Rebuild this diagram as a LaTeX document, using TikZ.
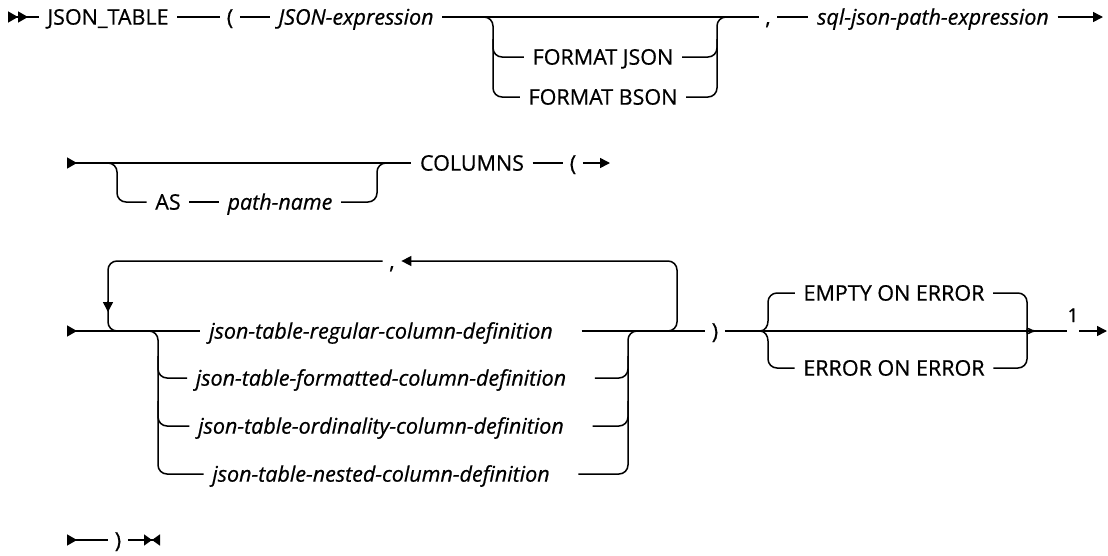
\documentclass[tikz,border=0pt]{standalone}
\usepackage{fontspec}
\setmainfont{Open Sans}[FakeBold=0.6]
\usetikzlibrary{arrows.meta}

\begin{document}
\begin{tikzpicture}[
  x=1pt,y=-1pt,
  font=\fontsize{21.5}{26}\selectfont,
  line width=1.5pt,
  kw/.style={text height=15.3pt,text depth=0pt,inner ysep=0pt,inner xsep=8pt},
  var/.style={kw,font=\fontsize{21.5}{26}\selectfont\itshape},
  sym/.style={kw,inner xsep=6pt},
  fork/.style={rounded corners=9pt},
  railgo/.style={-{Triangle[length=10pt,width=10pt]}},
  railstart/.style={{Triangle[reversed,length=10pt,width=11pt]}-},
  railbegin/.style={{Triangle[reversed,length=10pt,width=11pt]Triangle[reversed,length=10pt,width=11pt]}-},
  railstop/.style={-{Triangle[length=8pt,width=11pt]Triangle[reversed,length=8pt,width=11pt]}},
  note/.style={inner sep=0pt,anchor=base,font=\fontsize{19}{22}\selectfont},
]
\useasboundingbox (0,0) rectangle (1108,555);

% ---- row 1: JSON_TABLE ( JSON-expression [FORMAT ...] , path ----
\coordinate (s1) at (8,17);
\node[kw] (jsontable) at (108,17) {JSON\_TABLE};
\node[sym] (lp1) at (230,17) {(};
\node[var] (jsonexpr) at (356,17) {JSON-expression};
\node[sym] (comma1) at (768,17) {,};
\node[var] (sqlpath) at (933,17) {sql-json-path-expression};
\coordinate (e1) at (1103,17);
\node[kw] (fmtjson) at (603,57) {FORMAT JSON};
\node[kw] (fmtbson) at (603,97) {FORMAT BSON};
\coordinate (f1l) at (493,17);
\coordinate (f1r) at (717,17);

\draw[railbegin] (s1) -- (jsontable);
\draw (jsontable) -- (lp1);
\draw (lp1) -- (jsonexpr);
\draw (jsonexpr) -- (comma1);
\draw (comma1) -- (sqlpath);
\draw[railgo] (sqlpath) -- (e1);
\draw[fork] ([xshift=-20pt]f1l) -| (f1l |- fmtbson) -- (fmtbson);
\draw[fork] ([yshift=-22pt]f1l) |- (fmtjson);
\draw[fork] (fmtbson) -| (f1r) -- ([xshift=20pt]f1r);
\draw[fork] (fmtjson) -| ([yshift=-22pt]f1r);

% ---- row 2: optional AS path-name, COLUMNS ( ----
\coordinate (s2) at (67,163);
\node[kw] (columns) at (472,163) {COLUMNS};
\node[sym] (lp2) at (573,163) {(};
\coordinate (e2) at (610,163);
\node[kw] (as) at (168,202) {AS};
\node[var] (pathname) at (280,202) {path-name};
\coordinate (f2l) at (117,163);
\coordinate (f2r) at (377,163);

\draw[railstart] (s2) -- (columns);
\draw (columns) -- (lp2);
\draw[railgo] (lp2) -- (e2);
\draw[fork] ([xshift=-20pt]f2l) -| (f2l |- as) -- (as);
\draw (as) -- (pathname);
\draw[fork] (pathname) -| (f2r) -- ([xshift=20pt]f2r);

% ---- row 3: repeated column definitions, then ON ERROR choice ----
\coordinate (s3) at (67,331);
\node[var] (regular) at (381,331) {json-table-regular-column-definition};
\node[var] (formatted) at (381,378) {json-table-formatted-column-definition};
\node[var] (ordinality) at (381,426) {json-table-ordinality-column-definition};
\node[var] (nested) at (381,474) {json-table-nested-column-definition};
\node[sym] (rp3) at (715,331) {)};
\node[sym] (comma3) at (392,261) {,};
\coordinate (f3l) at (158,331);
\coordinate (f3r) at (628,331);
\coordinate (loopl) at (108,331);
\coordinate (loopr) at (677,331);

\draw[railstart] (s3) -- (regular);
\draw[fork] ([xshift=-20pt]f3l) -| (f3l |- nested) -- (nested);
\draw[fork] ([yshift=-25pt]f3l) |- (formatted);
\draw[fork] ([yshift=-70pt]f3l) |- (ordinality);
\draw[fork] ([xshift=20pt]nested.east) -| (f3r) -- ([xshift=20pt]f3r);
\draw[fork] ([xshift=20pt]formatted.east) -| ([yshift=-25pt]f3r);
\draw[fork] ([xshift=20pt]ordinality.east) -| ([yshift=-70pt]f3r);
\draw ([xshift=20pt]regular.east) -- (rp3);

% repeat loop over the comma
\draw[fork,railgo] ([xshift=-20pt]loopr) -| ([yshift=70pt]loopr) -- (comma3);
\draw[fork,railgo] (comma3) -| ([yshift=19pt]loopl);
\draw[fork] ([yshift=30pt]loopl) |- ([xshift=20pt]loopl);

\node[kw] (empty) at (894,293) {EMPTY ON ERROR};
\node[kw] (error) at (894,368) {ERROR ON ERROR};
\coordinate (bl) at (760,331);
\coordinate (br) at (1035,331);
\node[note] (fn) at (1073,322) {1};
\coordinate (e3) at (1107,331);

\draw (rp3) -- (fn.west |- rp3);
\draw[railgo] (fn.east |- rp3) -- (e3);
\draw (bl) to[out=0,in=-90] ++(8,-10) [rounded corners=9pt] |- (empty);
\draw (bl) to[out=0,in=90] ++(8,10) [rounded corners=9pt] |- (error);
\draw[rounded corners=9pt] (empty) -| ([xshift=-8pt,yshift=10pt]br)
      [sharp corners] to[out=-90,in=180] (br);
\draw[rounded corners=9pt] (error) -| ([xshift=-8pt,yshift=-10pt]br)
      [sharp corners] to[out=90,in=180] (br);

% ---- row 4: closing paren ----
\coordinate (s4) at (67,540);
\node[sym] (rp4) at (118,540) {)};
\coordinate (e4) at (160,540);

\draw[railstart] (s4) -- (rp4);
\draw[railstop] (rp4) -- (e4);

\end{tikzpicture}
\end{document}
